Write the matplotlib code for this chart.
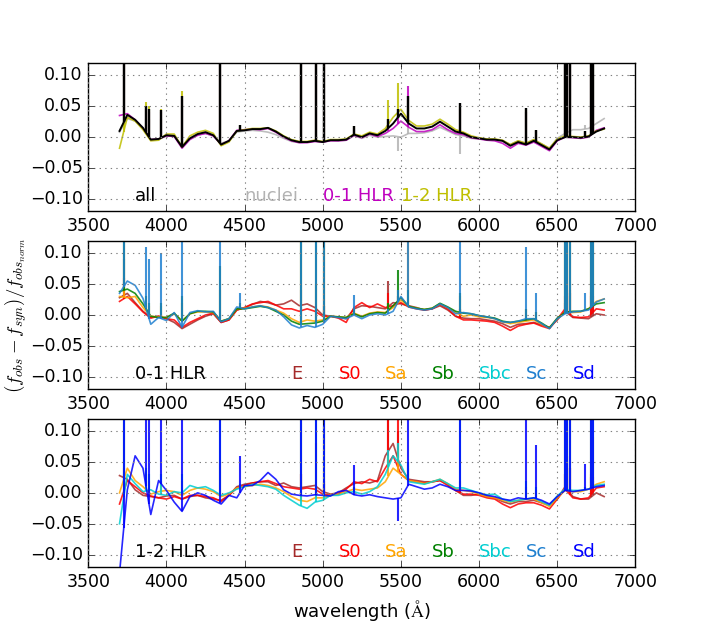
import numpy as np
import matplotlib
matplotlib.use("Agg")
from matplotlib import pyplot as plt

plt.style.use('classic')
plt.rcParams['font.size'] = 12.5
plt.rcParams['mathtext.fontset'] = 'cm'

# wavelength grid of the continuum samples (Angstrom)
wl = np.arange(3700, 6801, 50)

# emission / residual line positions (Angstrom)
line_wl = [3727, 3869, 3889, 3968, 4102, 4340, 4471, 4861, 4959, 5007, 5200,
           5420, 5480, 5545, 5876, 6300, 6363, 6548, 6563, 6584, 6678, 6717, 6731]
nan = np.nan

##### top panel: all / nuclei / 0-1 HLR / 1-2 HLR #####
all_res = [0.010, 0.036, 0.028, 0.015, -0.004, -0.003, 0.003, 0.002, -0.016, -0.002,
           0.005, 0.008, 0.003, -0.012, -0.006, 0.010, 0.011, 0.013, 0.013, 0.015,
           0.009, 0.001, -0.005, -0.008, -0.008, -0.006, -0.008, -0.005, -0.005, -0.004,
           0.004, 0.000, 0.006, 0.003, 0.010, 0.022, 0.038, 0.022, 0.014, 0.014,
           0.017, 0.025, 0.017, 0.009, 0.006, 0.000, -0.002, -0.004, -0.004, -0.006,
           -0.014, -0.008, -0.012, -0.006, -0.013, -0.020, -0.005, 0.000, 0.000, -0.001,
           0.001, 0.009, 0.014]
nuclei_res = [0.008, 0.030, 0.026, 0.014, -0.004, -0.004, 0.002, 0.002, -0.014, -0.003,
              0.004, 0.006, 0.002, -0.010, -0.006, 0.008, 0.010, 0.011, 0.010, 0.008,
              0.004, -0.002, -0.007, -0.009, -0.008, -0.007, -0.008, -0.005, -0.006, -0.005,
              0.002, -0.002, 0.003, 0.000, 0.001, 0.002, 0.000, 0.006, 0.006, 0.007,
              0.010, 0.016, 0.010, 0.004, 0.002, -0.002, -0.003, -0.004, -0.004, -0.006,
              -0.012, -0.006, -0.010, -0.004, -0.011, -0.018, -0.002, 0.006, 0.012, 0.012,
              0.014, 0.022, 0.030]
hlr01_res = [0.035, 0.038, 0.028, 0.014, -0.004, -0.003, 0.002, 0.001, -0.018, -0.004,
             0.003, 0.006, 0.002, -0.012, -0.006, 0.011, 0.012, 0.013, 0.012, 0.014,
             0.008, 0.000, -0.006, -0.009, -0.009, -0.007, -0.008, -0.006, -0.006, -0.005,
             0.003, -0.001, 0.005, 0.001, 0.006, 0.014, 0.026, 0.016, 0.009, 0.009,
             0.012, 0.020, 0.012, 0.006, 0.004, -0.001, -0.003, -0.005, -0.006, -0.010,
             -0.018, -0.010, -0.013, -0.008, -0.015, -0.022, -0.006, 0.000, -0.001, -0.002,
             0.000, 0.011, 0.015]
hlr12_res = [-0.018, 0.032, 0.026, 0.012, -0.006, -0.005, 0.005, 0.005, -0.016, 0.002,
             0.008, 0.011, 0.006, -0.014, -0.008, 0.010, 0.012, 0.014, 0.014, 0.015,
             0.010, 0.002, -0.004, -0.007, -0.007, -0.005, -0.007, -0.004, -0.004, -0.003,
             0.005, 0.002, 0.008, 0.005, 0.014, 0.032, 0.045, 0.027, 0.018, 0.018,
             0.021, 0.029, 0.021, 0.012, 0.008, 0.002, -0.001, -0.003, -0.003, -0.005,
             -0.012, -0.006, -0.010, -0.004, -0.011, -0.018, -0.003, 0.002, 0.001, 0.000,
             0.002, 0.010, 0.013]

all_lines = [0.3, 0.050, 0.045, 0.044, 0.066, 0.3, 0.020, 0.3, 0.3, 0.3, 0.018,
             0.030, 0.045, 0.066, 0.055, 0.047, 0.012, 0.3, 0.3, 0.3, 0.010, 0.3, 0.3]
nuclei_lines = [0.3, 0.030, 0.030, 0.030, 0.050, 0.3, 0.015, 0.3, 0.3, 0.3, 0.012,
                nan, -0.022, 0.030, -0.028, 0.040, 0.010, 0.3, 0.3, 0.3, 0.020, 0.3, 0.3]
hlr01_lines = [0.3, 0.045, 0.040, 0.040, 0.060, 0.3, 0.015, 0.3, 0.3, 0.3, 0.015,
               0.020, 0.035, 0.082, 0.045, 0.040, 0.010, 0.3, 0.3, 0.3, 0.008, 0.3, 0.060]
hlr12_lines = [0.3, 0.057, 0.050, 0.045, 0.075, 0.3, 0.020, 0.3, 0.3, 0.3, 0.018,
               0.060, 0.088, 0.060, 0.050, 0.045, 0.012, 0.3, 0.3, 0.3, 0.010, 0.3, 0.3]

##### middle panel: 0-1 HLR by morphological type #####
mid_E = [0.028, 0.035, 0.020, 0.006, -0.004, -0.002, -0.006, -0.012, -0.022, -0.015,
         -0.008, -0.002, 0.002, -0.012, -0.008, 0.008, 0.012, 0.017, 0.022, 0.020,
         0.016, 0.018, 0.024, 0.015, 0.018, 0.012, 0.000, -0.002, -0.004, -0.006,
         0.010, 0.015, 0.014, 0.012, 0.010, 0.020, 0.018, 0.015, 0.012, 0.008,
         0.010, 0.015, 0.008, -0.002, -0.005, -0.006, -0.006, -0.008, -0.010, -0.014,
         -0.020, -0.015, -0.014, -0.012, -0.016, -0.020, -0.008, 0.006, -0.004, -0.005,
         -0.006, 0.002, 0.000]
mid_S0 = [0.022, 0.030, 0.018, 0.005, -0.005, -0.002, -0.006, -0.008, -0.020, -0.012,
          -0.006, 0.000, 0.003, -0.012, -0.008, 0.008, 0.012, 0.018, 0.020, 0.022,
          0.016, 0.010, 0.010, 0.006, 0.010, 0.006, -0.002, -0.002, -0.005, -0.012,
          0.012, 0.020, 0.012, 0.018, 0.012, 0.015, 0.020, 0.013, 0.010, 0.008,
          0.010, 0.017, 0.010, -0.002, -0.008, -0.008, -0.009, -0.010, -0.012, -0.018,
          -0.025, -0.018, -0.015, -0.013, -0.018, -0.022, -0.007, 0.010, -0.003, -0.004,
          -0.003, 0.010, 0.008]
mid_Sa = [0.030, 0.028, 0.030, 0.012, -0.002, -0.003, -0.004, 0.002, -0.010, 0.002,
          0.005, 0.005, 0.004, -0.010, -0.006, 0.010, 0.011, 0.013, 0.015, 0.013,
          0.008, 0.003, -0.006, -0.012, -0.008, -0.010, -0.008, -0.002, -0.003, -0.004,
          0.003, -0.002, 0.003, 0.005, 0.004, 0.012, 0.024, 0.014, 0.011, 0.009,
          0.011, 0.018, 0.012, 0.004, -0.002, 0.000, -0.003, -0.004, -0.006, -0.011,
          -0.014, -0.012, -0.010, -0.008, -0.015, -0.021, -0.006, 0.004, 0.004, 0.005,
          0.010, 0.022, 0.026]
mid_Sb = [0.038, 0.042, 0.035, 0.018, -0.002, -0.004, -0.004, 0.003, -0.010, 0.002,
          0.006, 0.006, 0.005, -0.010, -0.006, 0.010, 0.010, 0.012, 0.014, 0.012,
          0.006, 0.000, -0.010, -0.015, -0.014, -0.013, -0.010, -0.002, -0.003, -0.004,
          0.002, -0.003, 0.002, 0.004, 0.003, 0.015, 0.028, 0.014, 0.011, 0.009,
          0.011, 0.019, 0.013, 0.006, 0.003, 0.002, -0.001, -0.003, -0.005, -0.010,
          -0.012, -0.010, -0.008, -0.006, -0.013, -0.021, -0.005, 0.004, 0.006, 0.006,
          0.010, 0.018, 0.020]
mid_Sc = [0.035, 0.055, 0.048, 0.027, -0.015, -0.004, -0.009, 0.004, -0.020, 0.004,
          0.007, 0.005, 0.006, -0.011, -0.006, 0.013, 0.010, 0.013, 0.015, 0.012,
          0.008, -0.003, -0.016, -0.021, -0.017, -0.020, -0.015, -0.002, -0.004, -0.006,
          0.000, -0.006, 0.000, 0.002, 0.000, 0.006, 0.030, 0.013, 0.010, 0.008,
          0.010, 0.018, 0.012, 0.002, 0.004, 0.002, -0.001, -0.003, -0.006, -0.011,
          -0.012, -0.010, -0.006, -0.006, -0.014, -0.022, -0.006, 0.002, 0.005, 0.006,
          0.008, 0.021, 0.026]

mid_E_lines = [0.090, nan, nan, nan, nan, nan, nan, 0.040, 0.010, 0.015, nan,
               0.055, 0.030, nan, 0.010, nan, nan, 0.020, 0.030, 0.035, nan, 0.030, 0.020]
mid_S0_lines = [0.060, nan, nan, nan, nan, nan, nan, 0.010, 0.010, 0.015, nan,
                0.035, 0.030, nan, 0.010, nan, nan, 0.030, 0.073, 0.040, nan, 0.037, 0.030]
mid_Sa_lines = [0.3, 0.020, 0.015, 0.015, 0.020, 0.040, 0.015, 0.12, 0.050, 0.12, 0.010,
                0.020, 0.040, 0.3, 0.030, 0.010, 0.005, 0.2, 0.3, 0.3, 0.010, 0.3, 0.2]
mid_Sb_lines = [0.3, 0.030, 0.020, 0.020, 0.030, 0.080, 0.020, 0.3, 0.12, 0.3, 0.010,
                0.020, 0.073, 0.040, 0.035, 0.010, 0.005, 0.3, 0.3, 0.3, 0.010, 0.3, 0.3]
mid_Sc_lines = [0.3, 0.110, 0.090, 0.100, 0.3, 0.3, 0.035, 0.3, 0.3, 0.3, 0.032,
                0.010, 0.040, 0.3, 0.3, 0.110, 0.035, 0.3, 0.3, 0.3, 0.035, 0.3, 0.3]

##### bottom panel: 1-2 HLR by morphological type #####
bot_E = [0.028, 0.022, 0.005, -0.004, -0.006, -0.008, -0.005, -0.004, -0.010, -0.006,
         -0.004, -0.008, -0.010, -0.012, -0.004, 0.010, 0.014, 0.016, 0.018, 0.018,
         0.012, 0.016, 0.010, 0.008, 0.010, 0.012, 0.002, -0.002, 0.000, 0.008,
         0.015, 0.018, 0.016, 0.020, 0.060, 0.080, 0.040, 0.022, 0.020, 0.018,
         0.018, 0.020, 0.014, 0.004, -0.004, -0.004, -0.002, -0.006, -0.008, -0.014,
         -0.018, -0.014, -0.014, -0.012, -0.016, -0.020, -0.010, 0.010, -0.006, -0.010,
         -0.010, 0.000, -0.006]
bot_S0 = [-0.018, 0.020, 0.010, 0.000, -0.005, -0.008, -0.010, -0.006, -0.010, -0.004,
          -0.004, -0.006, -0.008, -0.014, -0.004, 0.008, 0.012, 0.016, 0.018, 0.020,
          0.015, 0.010, 0.008, 0.006, 0.008, 0.006, -0.002, -0.004, -0.002, 0.006,
          0.018, 0.015, 0.022, 0.018, 0.040, 0.060, 0.030, 0.020, 0.018, 0.016,
          0.018, 0.020, 0.012, 0.004, -0.002, -0.002, -0.004, -0.008, -0.010, -0.018,
          -0.024, -0.018, -0.016, -0.016, -0.020, -0.026, -0.010, 0.006, -0.008, -0.010,
          -0.008, 0.008, 0.010]
bot_Sa = [0.000, 0.040, 0.020, 0.010, -0.002, 0.002, 0.004, 0.002, -0.004, 0.004,
          0.008, 0.006, 0.002, -0.006, -0.002, 0.008, 0.010, 0.012, 0.014, 0.012,
          0.008, 0.002, -0.006, -0.012, -0.014, -0.008, -0.008, -0.004, -0.002, 0.002,
          0.006, 0.004, 0.006, 0.008, 0.018, 0.040, 0.030, 0.020, 0.018, 0.015,
          0.018, 0.022, 0.015, 0.006, 0.004, 0.002, -0.002, -0.006, -0.008, -0.012,
          -0.015, -0.012, -0.010, -0.010, -0.016, -0.022, -0.008, 0.004, 0.002, 0.002,
          0.006, 0.014, 0.018]
bot_Sbc = [-0.050, 0.030, 0.015, 0.002, 0.005, -0.002, -0.004, 0.002, 0.000, 0.012,
           0.008, 0.010, 0.004, -0.004, 0.000, 0.006, 0.010, 0.014, 0.012, 0.010,
           0.006, -0.004, -0.012, -0.020, -0.025, -0.015, -0.012, -0.004, -0.004, 0.000,
           0.002, -0.002, 0.002, 0.010, 0.030, 0.060, 0.045, 0.018, 0.016, 0.014,
           0.018, 0.022, 0.015, 0.008, 0.008, 0.004, 0.000, -0.003, -0.002, -0.010,
           -0.014, -0.012, -0.010, -0.008, -0.014, -0.020, -0.005, 0.006, 0.004, 0.004,
           0.006, 0.012, 0.014]
bot_Sd = [-0.130, 0.005, 0.060, 0.040, -0.035, 0.020, 0.004, -0.015, -0.030, -0.006,
          0.000, -0.004, -0.012, -0.018, -0.004, -0.008, 0.012, 0.012, 0.020, 0.033,
          0.022, 0.005, -0.002, -0.004, -0.005, -0.003, -0.004, -0.005, 0.002, 0.004,
          -0.003, -0.005, -0.003, -0.006, -0.008, -0.010, -0.008, 0.014, 0.010, 0.006,
          0.008, 0.014, 0.010, 0.004, 0.004, 0.003, 0.000, -0.004, -0.006, -0.010,
          -0.012, -0.008, -0.010, -0.008, -0.012, -0.018, -0.006, 0.004, 0.002, 0.004,
          0.006, 0.010, 0.012]

bot_E_lines = [0.030, nan, nan, nan, nan, nan, nan, 0.030, 0.010, 0.015, nan,
               0.3, 0.100, nan, 0.010, nan, nan, 0.030, 0.060, 0.040, nan, 0.025, 0.020]
bot_S0_lines = [0.040, nan, nan, nan, nan, nan, nan, 0.030, 0.010, 0.020, nan,
                0.120, 0.3, 0.050, 0.010, nan, nan, 0.030, 0.047, 0.040, nan, 0.030, 0.025]
bot_Sa_lines = [0.3, 0.030, 0.020, 0.020, 0.020, 0.050, 0.010, 0.3, 0.080, 0.3, 0.010,
                0.060, 0.070, 0.040, 0.020, 0.010, 0.005, 0.3, 0.3, 0.3, 0.010, 0.3, 0.090]
bot_Sbc_lines = [0.3, 0.040, 0.030, 0.030, 0.030, 0.3, 0.015, 0.3, 0.12, 0.3, 0.010,
                 0.070, 0.080, 0.050, 0.3, 0.020, 0.010, 0.3, 0.3, 0.3, 0.010, 0.3, 0.3]
bot_Sd_lines = [0.3, 0.3, 0.3, 0.3, 0.3, 0.3, 0.060, 0.3, 0.3, 0.3, 0.045,
                nan, -0.045, 0.3, 0.3, 0.3, 0.077, 0.3, 0.3, 0.3, 0.047, 0.3, 0.3]

type_names = ['E', 'S0', 'Sa', 'Sb', 'Sbc', 'Sc', 'Sd']
type_colors = ['brown', 'red', 'orange', 'green', 'darkturquoise', '#1f80d0', 'blue']
type_label_x = [4800, 5100, 5400, 5700, 6000, 6300, 6600]


def draw_spectrum(ax, res, lines, color, lw=1.2, alpha=0.85):
    ax.plot(wl, res, color=color, lw=lw, alpha=alpha)
    lw_arr = np.array(line_wl, dtype=float)
    peaks = np.array(lines, dtype=float)
    ok = np.isfinite(peaks)
    base = np.interp(lw_arr[ok], wl, res)   # start each line from the continuum
    ax.vlines(lw_arr[ok], base, peaks[ok], colors=color, lw=lw + 0.3, alpha=alpha)


fig, axes = plt.subplots(3, 1, figsize=(7.06, 6.3), dpi=100, facecolor='white')

# Top panel
ax = axes[0]
draw_spectrum(ax, nuclei_res, nuclei_lines, '0.7')
draw_spectrum(ax, hlr01_res, hlr01_lines, 'm')
draw_spectrum(ax, hlr12_res, hlr12_lines, 'y')
draw_spectrum(ax, all_res, all_lines, 'k', lw=1.4, alpha=1.0)
for txt, x, c in [('all', 3800, 'k'), ('nuclei', 4500, '0.7'),
                  ('0-1 HLR', 5000, 'm'), ('1-2 HLR', 5500, 'y')]:
    ax.text(x, -0.104, txt, color=c, fontsize=13)

# Middle panel
ax = axes[1]
mid_series = [(mid_E, mid_E_lines, 0), (mid_S0, mid_S0_lines, 1), (mid_Sa, mid_Sa_lines, 2),
              (mid_Sb, mid_Sb_lines, 3), (mid_Sc, mid_Sc_lines, 5)]
for res, lines, i in mid_series:
    draw_spectrum(ax, res, lines, type_colors[i])
ax.text(3800, -0.104, '0-1 HLR', color='k', fontsize=13)
ax.set_ylabel(r'$(f_{obs}-f_{syn})/f_{obs_{norm}}$', fontsize=13.5)
ax.yaxis.set_label_coords(-0.108, 0.5)

# Bottom panel
ax = axes[2]
bot_series = [(bot_E, bot_E_lines, 0), (bot_S0, bot_S0_lines, 1), (bot_Sa, bot_Sa_lines, 2),
              (bot_Sbc, bot_Sbc_lines, 4), (bot_Sd, bot_Sd_lines, 6)]
for res, lines, i in bot_series:
    draw_spectrum(ax, res, lines, type_colors[i])
ax.text(3800, -0.104, '1-2 HLR', color='k', fontsize=13)
ax.set_xlabel(r'wavelength ($\mathrm{\AA}$)', fontsize=13)

for ax in axes[1:]:
    for name, c, x in zip(type_names, type_colors, type_label_x):
        ax.text(x, -0.104, name, color=c, fontsize=13)

for ax in axes:
    ax.set_xlim(3500, 7000)
    ax.set_ylim(-0.12, 0.12)
    ax.set_xticks(np.arange(3500, 7001, 500))
    ax.set_yticks([-0.10, -0.05, 0.0, 0.05, 0.10])
    ax.grid(True, color='0.5', linestyle=':', linewidth=0.8)
    ax.tick_params(labelsize=12.5)

fig.savefig('out.png', dpi=100, facecolor='white')
